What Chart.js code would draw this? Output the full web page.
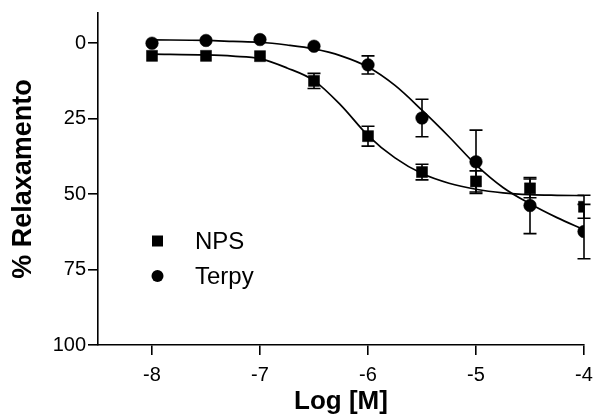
<!DOCTYPE html>
<html>
<head>
<meta charset="utf-8">
<script src="https://cdn.jsdelivr.net/npm/chart.js@4/dist/chart.umd.min.js"></script>
<style>
  html, body { margin: 0; padding: 0; background: #ffffff; }
  #wrap { width: 595px; height: 414px; }
</style>
</head>
<body>
<div id="wrap"><canvas id="chart" width="595" height="414"></canvas></div>
<script>
// Concentrations (log M) at which responses were measured
const logConc = [-8, -7.5, -7, -6.5, -6, -5.5, -5, -4.5, -4];

// Mean % relaxation and SEM for each compound
const npsMean = [4.2, 4.2, 4.3, 12.5, 30.8, 42.7, 45.8, 48.1, 54.2];
const npsSem = [0, 0, 0, 2.5, 3.3, 2.6, 3.5, 3.1, 3.8];
const terpyMean = [0.0, -0.9, -1.2, 1.0, 7.2, 24.8, 39.3, 53.8, 62.4];
const terpySem = [0, 0, 0, 0, 3.0, 6.2, 10.5, 9.3, 9.0];

// Fitted concentration-response curves, sampled along the x axis
const curveX = [-8, -7.5, -7.25, -7, -6.75, -6.5, -6.25, -6, -5.75, -5.5, -5.25, -5, -4.75, -4.5, -4.25, -4];
const npsFit = [3.6, 3.9, 4.3, 5.1, 8.2, 12.4, 20.6, 30.6, 38.0, 43.2, 46.4, 48.4, 49.6, 50.2, 50.4, 50.5];
const terpyFit = [-1.1, -0.9, -0.6, -0.3, 0.6, 1.9, 4.2, 7.9, 14.0, 22.2, 31.0, 40.3, 47.8, 53.2, 57.8, 61.8];

// Axis ticks
const xTicks = [-8, -7, -6, -5, -4];
const yTicks = [0, 25, 50, 75, 100];

const seriesNames = ['NPS', 'Terpy'];

const toPoints = (xs, ys) => xs.map((x, i) => ({ x: x, y: ys[i] }));

const FONT = "'Liberation Sans', Arial, Helvetica, sans-serif";

// Vertical SEM bars with caps, drawn under the markers
const errorBars = {
  id: 'errorBars',
  beforeDatasetsDraw(chart) {
    const ctx = chart.ctx;
    const xs = chart.scales.x, ys = chart.scales.y;
    ctx.save();
    ctx.strokeStyle = '#000';
    ctx.lineWidth = 1.6;
    chart.data.datasets.forEach(ds => {
      if (!ds.sem) return;
      ds.data.forEach((p, i) => {
        const e = ds.sem[i];
        if (!e) return;
        const px = xs.getPixelForValue(p.x);
        const y1 = ys.getPixelForValue(p.y - e);
        const y2 = ys.getPixelForValue(p.y + e);
        const cap = 6.5;
        ctx.beginPath();
        ctx.moveTo(px, y1); ctx.lineTo(px, y2);
        ctx.moveTo(px - cap, y1); ctx.lineTo(px + cap, y1);
        ctx.moveTo(px - cap, y2); ctx.lineTo(px + cap, y2);
        ctx.stroke();
      });
    });
    ctx.restore();
  }
};

// Legend with symbol and name for each measured series
const keyLegend = {
  id: 'keyLegend',
  afterDraw(chart) {
    const ctx = chart.ctx;
    ctx.save();
    ctx.fillStyle = '#000';
    ctx.font = '24px ' + FONT;
    ctx.textBaseline = 'middle';
    ctx.textAlign = 'left';
    const entries = chart.data.datasets.filter(d => d.sem);
    entries.forEach((ds, i) => {
      const cy = 241 + i * 35;
      const cx = 157.5;
      ctx.beginPath();
      if (ds.pointStyle === 'rect') {
        ctx.rect(cx - 5.5, cy - 5.5, 11, 11);
      } else {
        ctx.arc(cx, cy, 6, 0, Math.PI * 2);
      }
      ctx.fill();
      ctx.fillText(ds.label, 195, cy + 1);
    });
    ctx.restore();
  }
};

const axisCommon = {
  type: 'linear',
  grid: {
    display: true,
    drawOnChartArea: false,
    drawTicks: true,
    tickLength: 10,
    color: '#000',
    lineWidth: 1.6
  },
  border: { display: true, color: '#000', width: 1.6 }
};

new Chart(document.getElementById('chart'), {
  type: 'scatter',
  data: {
    datasets: [
      {
        label: seriesNames[0],
        data: toPoints(logConc, npsMean),
        sem: npsSem,
        pointStyle: 'rect',
        pointRadius: 7.8,
        pointBackgroundColor: '#000',
        pointBorderColor: '#000',
        pointBorderWidth: 0.5,
        showLine: false,
        order: 1
      },
      {
        label: seriesNames[1],
        data: toPoints(logConc, terpyMean),
        sem: terpySem,
        pointStyle: 'circle',
        pointRadius: 6.3,
        pointBackgroundColor: '#000',
        pointBorderColor: '#000',
        pointBorderWidth: 0.5,
        showLine: false,
        order: 1
      },
      {
        label: seriesNames[0] + ' fit',
        data: toPoints(curveX, npsFit),
        showLine: true,
        pointRadius: 0,
        borderColor: '#000',
        borderWidth: 1.7,
        cubicInterpolationMode: 'monotone',
        order: 2
      },
      {
        label: seriesNames[1] + ' fit',
        data: toPoints(curveX, terpyFit),
        showLine: true,
        pointRadius: 0,
        borderColor: '#000',
        borderWidth: 1.7,
        cubicInterpolationMode: 'monotone',
        order: 2
      }
    ]
  },
  options: {
    responsive: false,
    animation: false,
    devicePixelRatio: 1,
    layout: { padding: { top: 13, right: 11, left: 0, bottom: 0 } },
    plugins: {
      legend: { display: false },
      tooltip: { enabled: false }
    },
    scales: {
      x: Object.assign({}, axisCommon, {
        position: 'bottom',
        min: -8.5,
        max: -4,
        afterBuildTicks: s => { s.ticks = xTicks.map(v => ({ value: v })); },
        afterFit: s => { s.height = 69; s.paddingLeft = 0; s.paddingRight = 0; },
        ticks: {
          color: '#000',
          padding: 8,
          maxRotation: 0,
          autoSkip: false,
          font: { family: FONT, size: 20 },
          callback: v => String(v)
        },
        title: {
          display: true,
          text: 'Log [M]',
          color: '#000',
          font: { family: FONT, size: 26, weight: 'bold', lineHeight: 1 },
          padding: { top: 0, bottom: -1 }
        }
      }),
      y: Object.assign({}, axisCommon, {
        position: 'left',
        reverse: true,
        min: -10,
        max: 100,
        afterBuildTicks: s => { s.ticks = yTicks.map(v => ({ value: v })); },
        afterFit: s => { s.width = 98; s.paddingTop = 0; s.paddingBottom = 0; },
        ticks: {
          color: '#000',
          padding: 2,
          autoSkip: false,
          font: { family: FONT, size: 20 },
          callback: v => String(v)
        },
        title: {
          display: true,
          text: '% Relaxamento',
          color: '#000',
          font: { family: FONT, size: 27, weight: 'bold', lineHeight: 1.2 },
          padding: { top: 7, bottom: 0 }
        }
      })
    }
  },
  plugins: [errorBars, keyLegend]
});
</script>
</body>
</html>
